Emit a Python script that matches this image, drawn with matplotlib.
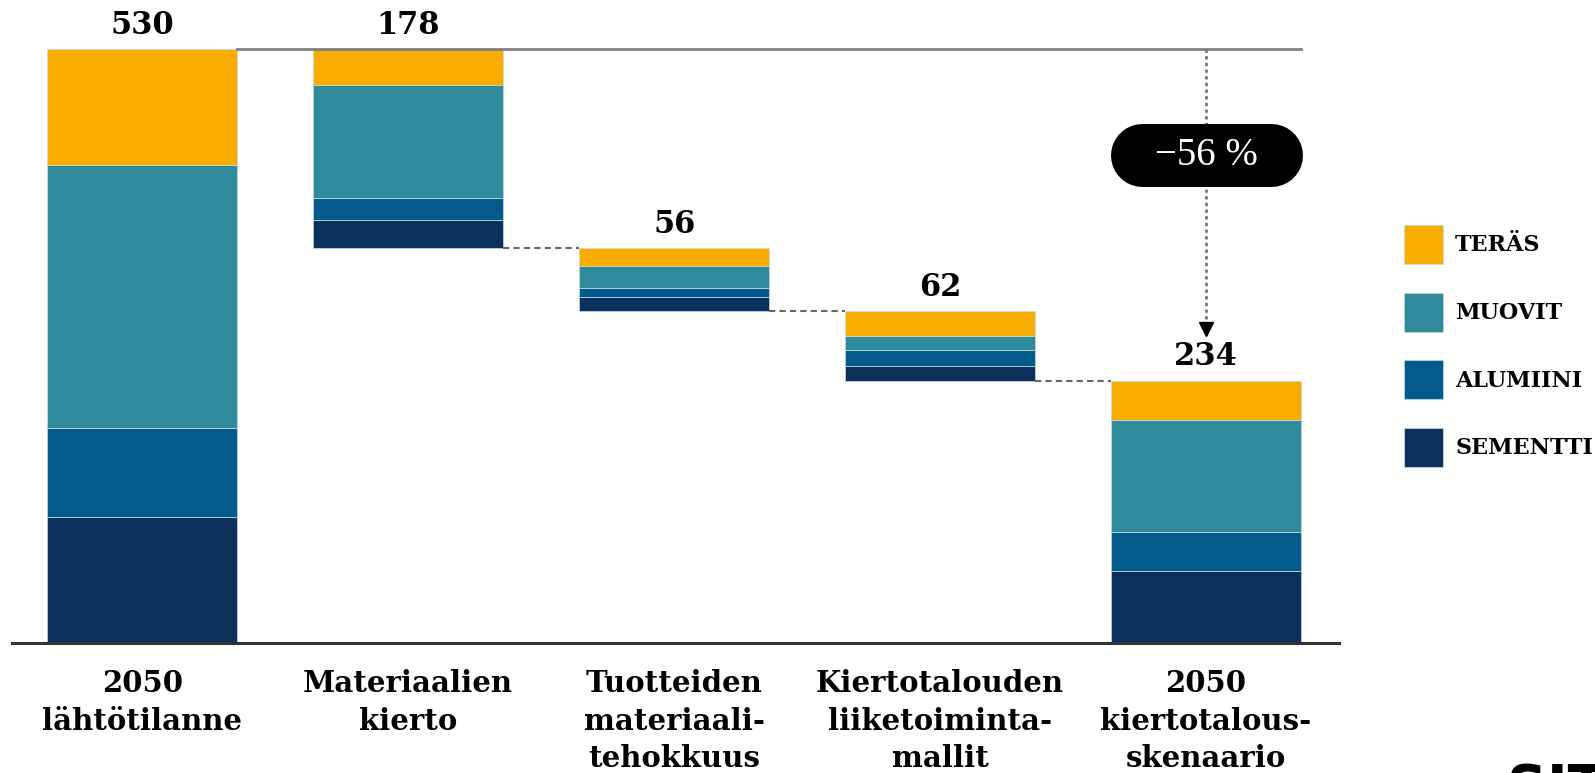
import matplotlib
matplotlib.use("Agg")
import matplotlib.pyplot as plt
import numpy as np
from matplotlib.patches import Patch

categories = ["2050\nlähtötilanne", "Materiaalien\nkierto", "Tuotteiden\nmateriaali-\ntehokkuus",
              "Kiertotalouden\nliiketoiminta-\nmallit", "2050\nkiertotalous-\nskenaario"]
totals = [530, 178, 56, 62, 234]
series = ["TERÄS", "MUOVIT", "ALUMIINI", "SEMENTTI"]
teras = [104, 32, 16, 22, 35]
muovit = [234, 101, 19, 13, 100]
alumiini = [80, 20, 8, 14, 35]
sementti = [112, 25, 13, 13, 64]
change_label = "−56 %"

colors = ["#F9AC00", "#2F8A9C", "#025B8A", "#0A305B"]
serif = "DejaVu Serif"

W, H, DPI = 1595, 773, 100
fig = plt.figure(figsize=(W / DPI, H / DPI), dpi=DPI)
ax = fig.add_axes([12 / W, (H - 643) / H, 1327 / W, 639 / H])
ax.set_xlim(-0.49, 4.5)
ax.set_ylim(0, 570)

x = np.arange(len(categories))
width = 0.715

# waterfall: first and last bars stand on the baseline, the rest float
bottoms = [0]
level = totals[0]
for t in totals[1:-1]:
    level -= t
    bottoms.append(level)
bottoms.append(0)

stack = [sementti, alumiini, muovit, teras]
stack_colors = colors[::-1]
base = np.array(bottoms, dtype=float)
for vals, c in zip(stack, stack_colors):
    ax.bar(x, vals, width, bottom=base, color=c, edgecolor="#c9dbe3", linewidth=0.5)
    base += np.array(vals)

# value labels
for i, t in enumerate(totals):
    top = totals[0] if i in (0, 1) else bottoms[i] + t
    ax.annotate(str(t), (x[i], top), xytext=(0, 6), textcoords="offset points",
                ha="center", va="bottom", fontsize=22, fontweight="bold", family=serif)

# top reference line and dashed connectors
ax.plot([x[0] + width / 2, x[-1] + width / 2], [totals[0], totals[0]], color="#808080", lw=2)
for i in range(1, len(totals) - 1):
    ax.plot([x[i] + width / 2, x[i + 1] - width / 2], [bottoms[i], bottoms[i]],
            color="#666666", lw=1.5, ls=(0, (3, 2)))

# change arrow with pill label
pill_y = 435
ax.plot([x[-1], x[-1]], [totals[0], 280], color="#777777", lw=2, ls=(0, (1.2, 1.2)), zorder=2)
ax.plot([x[-1]], [280], marker="v", color="black", markersize=10, zorder=3)
ax.plot([x[-1] - 0.2425, x[-1] + 0.2425], [pill_y, pill_y], color="black",
        lw=63 * 72 / DPI, solid_capstyle="round", zorder=4)
ax.text(x[-1], pill_y, change_label, color="white", ha="center", va="center",
        fontsize=28, family="Liberation Serif", zorder=5)

# axes styling
ax.set_xticks(x)
ax.set_xticklabels(categories, fontsize=21, fontweight="bold", family=serif, linespacing=1.37)
ax.tick_params(axis="x", length=0, pad=19)
ax.set_yticks([])
for s in ["top", "left", "right"]:
    ax.spines[s].set_visible(False)
ax.spines["bottom"].set_color("#333333")
ax.spines["bottom"].set_linewidth(2.2)

handles = [Patch(facecolor=c, edgecolor="#c9dbe3", linewidth=0.5) for c in colors]
ax.legend(handles, series, loc="upper left", bbox_to_anchor=(1404 / W, 1 - 225 / H),
          bbox_transform=fig.transFigure, frameon=False, borderpad=0, borderaxespad=0,
          handlelength=1.757, handleheight=2.33, labelspacing=1.28, handletextpad=0.54,
          prop={"family": serif, "weight": "bold", "size": 16})

fig.text(1507 / W, 1 - 762 / H, "SITRA", ha="left", va="top", fontsize=40,
         fontweight="bold", family="DejaVu Sans")

fig.savefig("out.png", dpi=DPI)
